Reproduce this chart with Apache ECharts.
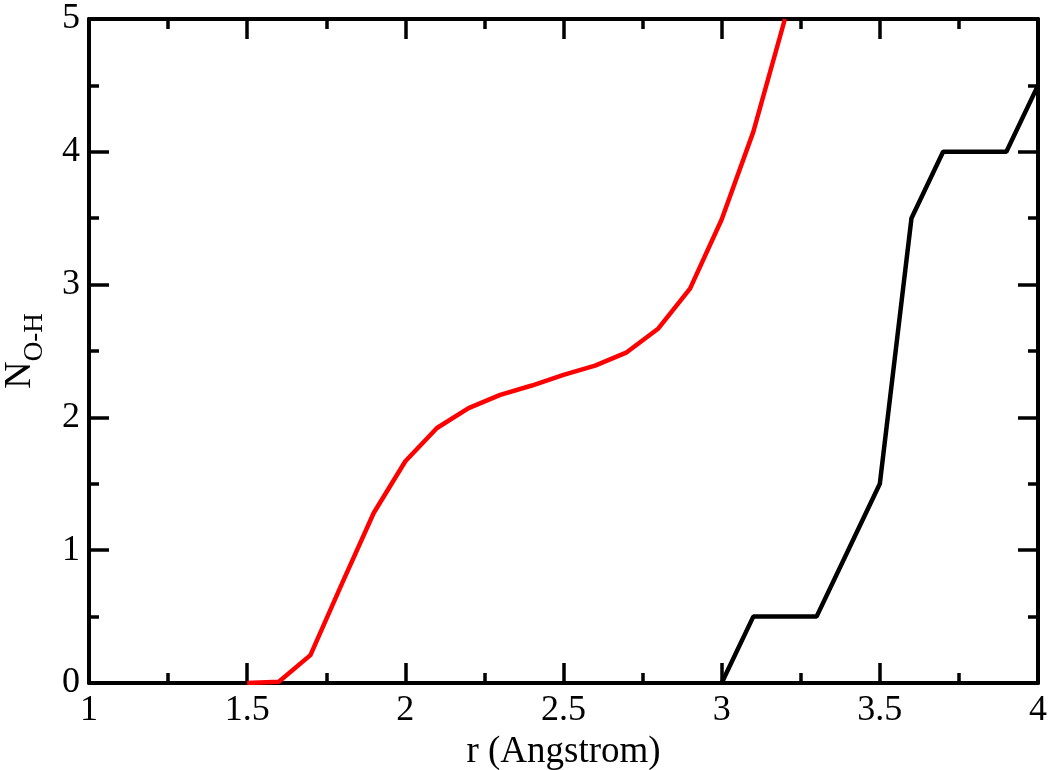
<!DOCTYPE html>
<html>
<head>
<meta charset="utf-8">
<script src="https://cdn.jsdelivr.net/npm/echarts@6/dist/echarts.min.js"></script>
<style>
html,body{margin:0;padding:0;background:#fff;}
#chart{width:1050px;height:770px;}
</style>
</head>
<body>
<div id="chart"></div>
<script>
// Red curve
const redR = [1.5, 1.6, 1.7, 1.8, 1.9, 2.0, 2.1, 2.2, 2.3, 2.4, 2.5, 2.6, 2.7, 2.8, 2.9, 3.0, 3.1, 3.2];
const redN = [0, 0.01, 0.21, 0.75, 1.28, 1.67, 1.92, 2.07, 2.17, 2.24, 2.32, 2.39, 2.49, 2.67, 2.97, 3.49, 4.15, 5.0];
// Black curve
const blackR = [3.0, 3.1, 3.2, 3.3, 3.4, 3.5, 3.6, 3.7, 3.8, 3.9, 4.0];
const blackN = [0, 0.5, 0.5, 0.5, 1.0, 1.5, 3.5, 4.0, 4.0, 4.0, 4.5];
const xTicks = [1, 1.5, 2, 2.5, 3, 3.5, 4];
const yTicks = [0, 1, 2, 3, 4, 5];

const FONT = '"Liberation Serif", "DejaVu Serif", serif';
const pair = (xs, ys) => xs.map((x, i) => [x, ys[i]]);

const tickStyle = {show: true, inside: true, length: 20, lineStyle: {color: '#000', width: 3.5}};
const minorStyle = {show: true, splitNumber: 2, length: 10, lineStyle: {color: '#000', width: 3.5}};
const axisLine = {show: true, onZero: false, lineStyle: {color: '#000', width: 4}};

function xLabel(v) {
  return xTicks.indexOf(v) >= 0 ? String(v) : '';
}
function yLabel(v) {
  return yTicks.indexOf(v) >= 0 ? String(v) : '';
}

const chart = echarts.init(document.getElementById('chart'), null, {renderer: 'canvas'});
chart.setOption({
  backgroundColor: '#fff',
  animation: false,
  grid: {left: 89, right: 12, top: 19, bottom: 87, containLabel: false, outerBoundsMode: 'none'},
  xAxis: [{
    type: 'value', min: 1, max: 4, interval: 0.5, position: 'bottom',
    name: 'r (Angstrom)', nameLocation: 'middle', nameGap: 46,
    nameTextStyle: {fontFamily: FONT, fontSize: 37, color: '#000'},
    axisLine: axisLine, axisTick: tickStyle, minorTick: minorStyle,
    splitLine: {show: false},
    axisLabel: {fontFamily: FONT, fontSize: 36, color: '#000', margin: 10, formatter: xLabel}
  }, {
    type: 'value', min: 1, max: 4, interval: 0.5, position: 'top',
    axisLine: axisLine, axisTick: tickStyle, minorTick: minorStyle,
    splitLine: {show: false}, axisLabel: {show: false}
  }],
  yAxis: [{
    type: 'value', min: 0, max: 5, interval: 1, position: 'left',
    name: '{n|N}{s|O-H}', nameLocation: 'middle', nameGap: 48, nameRotate: 90,
    nameTextStyle: {
      color: '#000',
      rich: {
        n: {fontFamily: FONT, fontSize: 38, color: '#000', lineHeight: 40, verticalAlign: 'top'},
        s: {fontFamily: FONT, fontSize: 27, color: '#000', lineHeight: 28, verticalAlign: 'top', padding: [20, 0, 0, 0]}
      }
    },
    axisLine: axisLine, axisTick: tickStyle, minorTick: minorStyle,
    splitLine: {show: false},
    axisLabel: {fontFamily: FONT, fontSize: 36, color: '#000', margin: 9, formatter: yLabel}
  }, {
    type: 'value', min: 0, max: 5, interval: 1, position: 'right',
    axisLine: axisLine, axisTick: tickStyle, minorTick: minorStyle,
    splitLine: {show: false}, axisLabel: {show: false}
  }],
  series: [{
    type: 'line', data: pair(redR, redN), showSymbol: false, symbol: 'none',
    lineStyle: {color: '#ff0000', width: 4.5}, z: 3
  }, {
    type: 'line', data: pair(blackR, blackN), showSymbol: false, symbol: 'none',
    lineStyle: {color: '#000', width: 4.5}, z: 3
  }]
});
</script>
</body>
</html>
